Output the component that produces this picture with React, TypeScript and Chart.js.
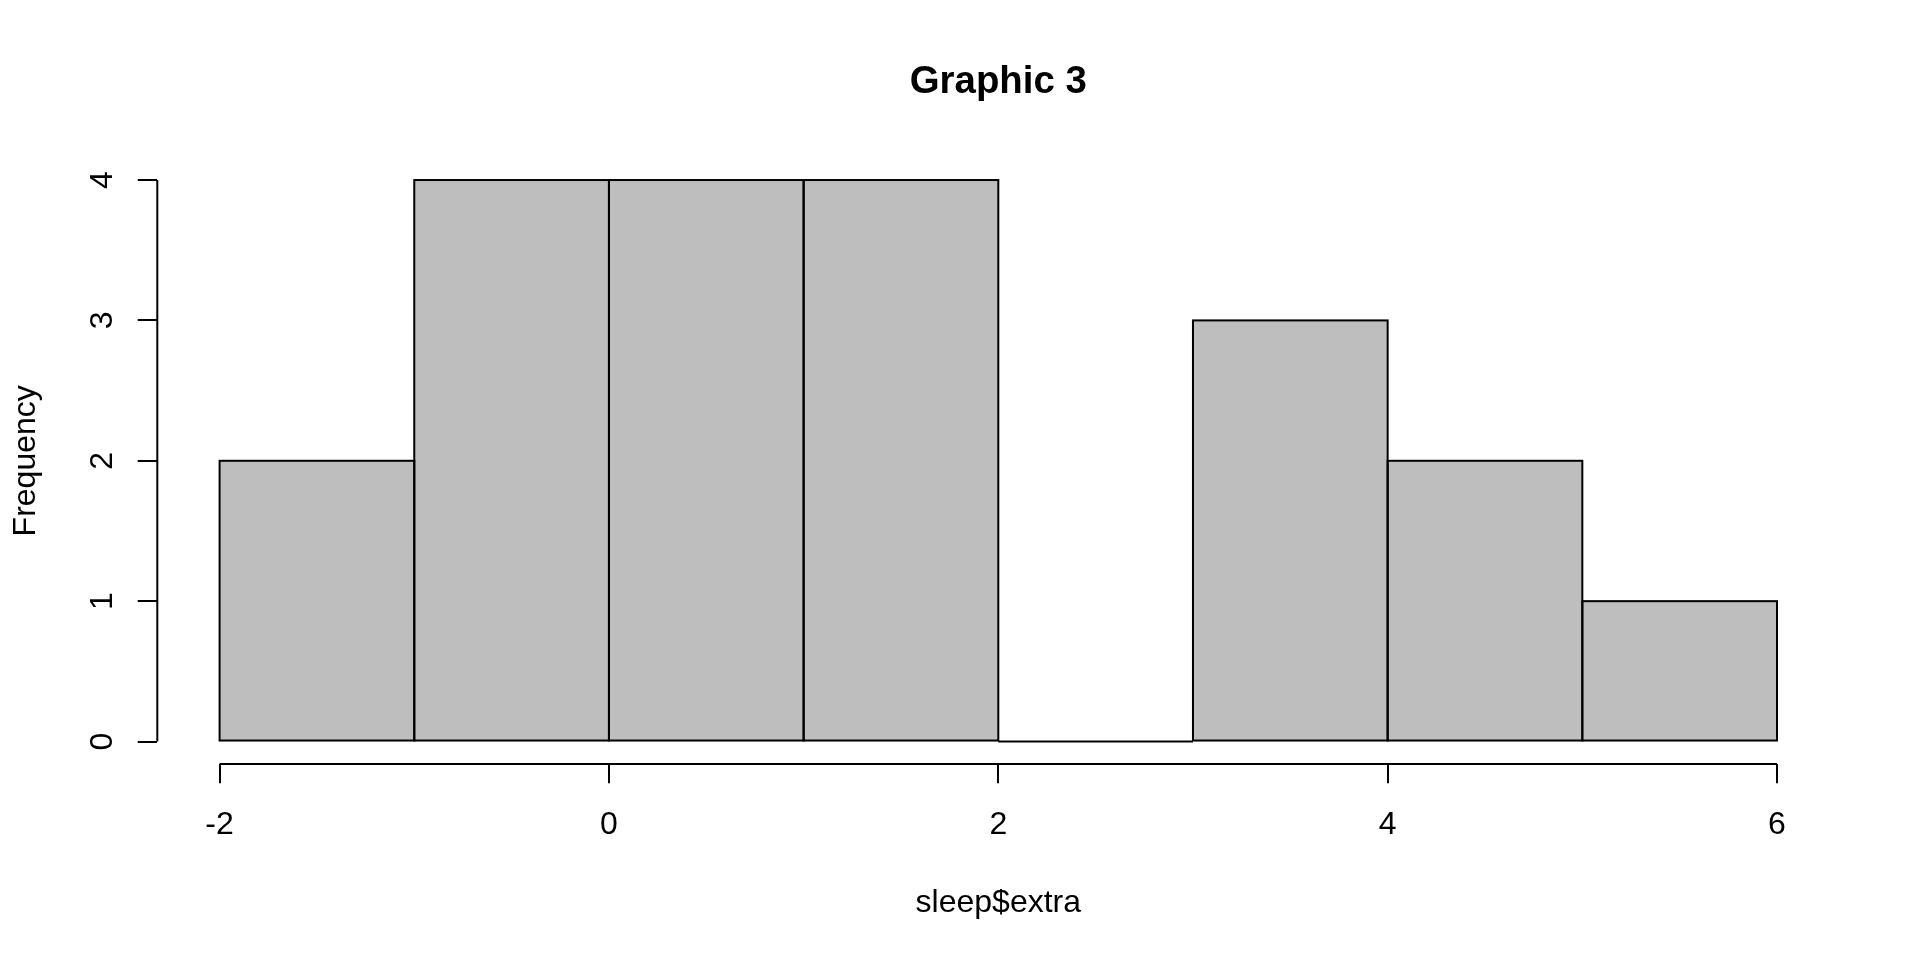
import { useEffect, useRef } from "react";
import { Chart, registerables } from "chart.js";

Chart.register(...registerables);

const binStarts = [-2, -1, 0, 1, 2, 3, 4, 5];
const binWidth = 1;
const counts = [2, 4, 4, 4, 0, 3, 2, 1];
const xTickValues = [-2, 0, 2, 4, 6];
const yTickValues = [0, 1, 2, 3, 4];
const titleText = "Graphic 3";
const xLabel = "sleep$extra";
const yLabel = "Frequency";

const FONT = "'Liberation Sans', Arial, Helvetica, sans-serif";
const AXIS_SIZE = 32;
const TITLE_SIZE = 38.4;
const LINE_W = 2;

const rStylePlugin = {
  id: "rStyle",
  afterDatasetsDraw(chart: any) {
    const ctx = chart.ctx;
    const area = chart.chartArea;
    const xs = chart.scales.x;
    const ys = chart.scales.y;
    ctx.save();
    ctx.strokeStyle = "#000";
    ctx.lineWidth = LINE_W;
    // bar outlines (centred on the edges, like R's rect())
    const meta = chart.getDatasetMeta(0);
    meta.data.forEach((el: any) => {
      const p = el.getProps(["x", "y", "base", "width"], true);
      ctx.strokeRect(p.x - p.width / 2, Math.min(p.y, p.base), p.width, Math.abs(p.base - p.y));
    });
    // axis lines spanning first to last tick
    ctx.beginPath();
    ctx.moveTo(xs.getPixelForValue(xTickValues[0]), area.bottom);
    ctx.lineTo(xs.getPixelForValue(xTickValues[xTickValues.length - 1]), area.bottom);
    ctx.moveTo(area.left, ys.getPixelForValue(yTickValues[0]));
    ctx.lineTo(area.left, ys.getPixelForValue(yTickValues[yTickValues.length - 1]));
    ctx.stroke();
    // rotated y tick labels
    ctx.font = `${AXIS_SIZE}px ${FONT}`;
    ctx.fillStyle = "#000";
    ctx.textAlign = "center";
    ctx.textBaseline = "alphabetic";
    yTickValues.forEach((v) => {
      ctx.save();
      ctx.translate(area.left - 45.6, ys.getPixelForValue(v));
      ctx.rotate(-Math.PI / 2);
      ctx.fillText(String(v), 0, 0);
      ctx.restore();
    });
    ctx.restore();
  },
};

export default function App() {
  const canvasRef = useRef<HTMLCanvasElement | null>(null);

  useEffect(() => {
    document.body.style.margin = "0";
    const canvas = canvasRef.current;
    if (!canvas) return;
    const chart = new Chart(canvas, {
      type: "bar",
      data: {
        datasets: [
          {
            label: "Frequency",
            data: binStarts.map((s, i) => ({ x: s + binWidth / 2, y: counts[i] })),
            backgroundColor: "#BEBEBE",
            borderWidth: 0,
            barPercentage: 1,
            categoryPercentage: 1,
          },
        ],
      },
      options: {
        responsive: false,
        devicePixelRatio: 1,
        animation: false,
        layout: { padding: { left: 0, right: 80.7, top: 0, bottom: 0 } },
        plugins: {
          legend: { display: false },
          tooltip: { enabled: false },
          title: {
            display: true,
            text: titleText,
            fullSize: false,
            color: "#000",
            font: { family: FONT, size: TITLE_SIZE, weight: "bold" },
            padding: { top: 59.5, bottom: 52.0 },
          },
        },
        scales: {
          x: {
            type: "linear",
            min: -2.32,
            max: 6.32,
            offset: false,
            afterBuildTicks: (scale: any) => {
              scale.ticks = xTickValues.map((v) => ({ value: v }));
            },
            afterFit: (scale: any) => {
              scale.height = 196;
            },
            grid: {
              display: true,
              offset: false,
              drawOnChartArea: false,
              drawTicks: true,
              tickLength: 19.3,
              color: "#000",
              lineWidth: LINE_W,
            },
            border: { display: false },
            ticks: {
              color: "#000",
              font: { family: FONT, size: AXIS_SIZE },
              padding: 22.2,
              maxRotation: 0,
              minRotation: 0,
              autoSkip: false,
            },
            title: {
              display: true,
              text: xLabel,
              color: "#000",
              font: { family: FONT, size: AXIS_SIZE },
              padding: { top: 0, bottom: 38.1 },
            },
          },
          y: {
            type: "linear",
            min: -0.16,
            max: 4.16,
            afterBuildTicks: (scale: any) => {
              scale.ticks = yTickValues.map((v) => ({ value: v }));
            },
            afterFit: (scale: any) => {
              scale.width = 157.3;
            },
            grid: {
              display: true,
              drawOnChartArea: false,
              drawTicks: true,
              tickLength: 19.6,
              color: "#000",
              lineWidth: LINE_W,
            },
            border: { display: false },
            ticks: { display: false },
            title: {
              display: true,
              text: yLabel,
              color: "#000",
              font: { family: FONT, size: AXIS_SIZE },
              padding: { top: 6.7, bottom: 0 },
            },
          },
        },
      },
      plugins: [rStylePlugin],
    } as any);
    return () => chart.destroy();
  }, []);

  return (
    <div style={{ width: 1920, height: 960, background: "#fff" }}>
      <canvas ref={canvasRef} width={1920} height={960} style={{ display: "block" }} />
    </div>
  );
}
